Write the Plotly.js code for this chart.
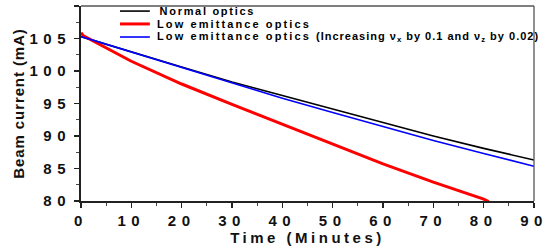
<!DOCTYPE html>
<html>
<head>
<meta charset="utf-8">
<script src="https://cdn.plot.ly/plotly-3.0.1.min.js"></script>
<style>
  html, body { margin: 0; padding: 0; background: #fff; }
  #chart { width: 552px; height: 246px; }
  .xtick text, .ytick text { letter-spacing: 5.5px; }
  .xtitle { letter-spacing: 3.5px; }
  .ytitle { letter-spacing: 0.9px; }
  .annotation-text { letter-spacing: 2.1px; }
  .annotation[data-index="0"] .annotation-text { letter-spacing: 1.7px; }
</style>
</head>
<body>
<div id="chart"></div>
<script>
// ---- data ----
const seriesNames = [
  "Normal optics",
  "Low emittance optics",
  "Low emittance optics <span style=\"letter-spacing:1px\">(Increasing <b>ν</b><sub>x</sub> by 0.1 and <b>ν</b><sub>z</sub> by 0.02)</span>"
];
const seriesColors = ["#000000", "#ff0000", "#0000ff"];
const seriesWidths = [1.6, 3, 1.6];

const timeNormal = [0, 10, 20, 30, 40, 50, 60, 70, 80, 90];
const currentNormal = [105.3, 102.9, 100.6, 98.3, 96.2, 94.1, 92.0, 90.0, 88.1, 86.3];

const timeLowEmit = [0, 0.5, 10, 20, 30, 40, 50, 60, 70, 80, 81];
const currentLowEmit = [105.9, 105.4, 101.5, 98.0, 94.85, 91.8, 88.7, 85.7, 82.9, 80.3, 79.9];

const timeLowEmitTune = [0, 10, 20, 30, 40, 50, 60, 70, 80, 90];
const currentLowEmitTune = [105.3, 102.9, 100.5, 98.1, 95.8, 93.6, 91.45, 89.3, 87.3, 85.35];

const xTickVals = [0, 10, 20, 30, 40, 50, 60, 70, 80, 90];
const yTickVals = [80, 85, 90, 95, 100, 105, 110];

// ---- build ----
const xs = [timeNormal, timeLowEmit, timeLowEmitTune];
const ys = [currentNormal, currentLowEmit, currentLowEmitTune];

const traces = xs.map((x, i) => ({
  x: x, y: ys[i], type: 'scatter', mode: 'lines',
  line: { color: seriesColors[i], width: seriesWidths[i] },
  showlegend: false, hoverinfo: 'skip'
}));

const fontFam = "Liberation Sans, Arial, Helvetica, sans-serif";

// legend built from annotations + short line samples (paper coords)
const legendY = [0.974, 0.908, 0.841];
const annotations = seriesNames.map((n, i) => ({
  xref: 'paper', yref: 'paper', x: 0.163, y: legendY[i],
  xanchor: 'left', yanchor: 'middle', showarrow: false, text: n,
  font: { family: fontFam, size: 11, color: '#000', weight: 'bold' }
}));
const shapes = seriesNames.map((n, i) => ({
  type: 'line', xref: 'paper', yref: 'paper',
  x0: 0.086, x1: 0.152, y0: legendY[i], y1: legendY[i],
  line: { color: seriesColors[i], width: seriesWidths[i] }
}));
// top and right frame lines
shapes.push({ type: 'line', xref: 'paper', yref: 'paper', x0: 0, x1: 1, y0: 1, y1: 1,
  line: { color: '#555', width: 1.3 } });
shapes.push({ type: 'line', xref: 'paper', yref: 'paper', x0: 1, x1: 1, y0: 0, y1: 1,
  line: { color: '#555', width: 1.3 } });

const layout = {
  width: 552, height: 246,
  margin: { l: 81, r: 18, t: 6, b: 45, pad: 0 },
  paper_bgcolor: '#fff', plot_bgcolor: '#fff',
  font: { family: fontFam, color: '#000' },
  showlegend: false,
  xaxis: {
    range: [0, 90], tickvals: xTickVals, showgrid: false, zeroline: false,
    showline: true, linecolor: '#222', linewidth: 2,
    ticks: 'outside', ticklen: 5, tickwidth: 1.5, tickcolor: '#222',
    minor: { dtick: 5, ticks: 'outside', ticklen: 3, tickwidth: 1, tickcolor: '#444', showgrid: false },
    tickfont: { family: fontFam, size: 15, weight: 'bold', color: '#111' },
    title: { text: 'Time (Minutes)', standoff: 1,
      font: { family: fontFam, size: 15, weight: 'bold', color: '#111' } }
  },
  yaxis: {
    range: [80, 110], tickvals: yTickVals, showgrid: false, zeroline: false,
    showline: true, linecolor: '#222', linewidth: 2,
    ticks: 'outside', ticklen: 5, tickwidth: 1.5, tickcolor: '#222',
    minor: { dtick: 2.5, ticks: 'outside', ticklen: 3, tickwidth: 1, tickcolor: '#444', showgrid: false },
    tickfont: { family: fontFam, size: 15, weight: 'bold', color: '#111' },
    title: { text: 'Beam current (mA)',
      font: { family: fontFam, size: 15, weight: 'bold', color: '#111' } }
  },
  annotations: annotations,
  shapes: shapes
};

Plotly.newPlot('chart', traces, layout, { staticPlot: true, displayModeBar: false });
</script>
</body>
</html>
